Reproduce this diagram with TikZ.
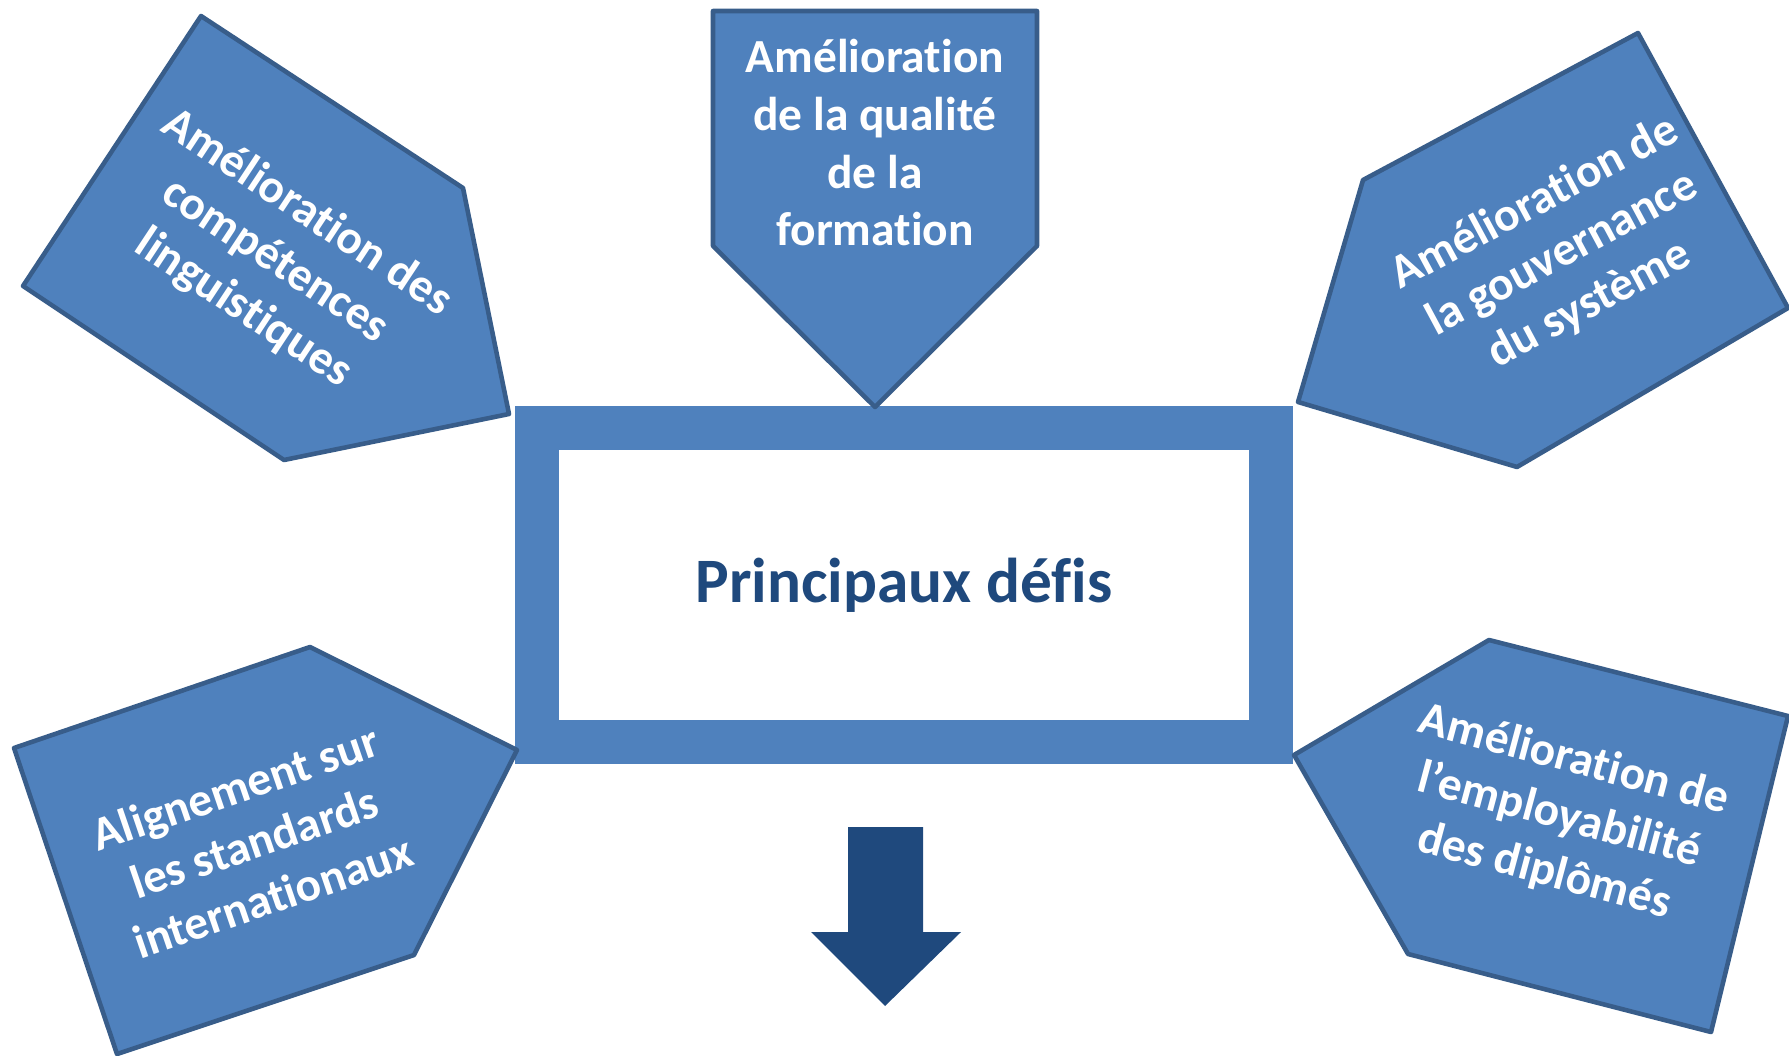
\documentclass[tikz,border=0pt]{standalone}
\usepackage{fontspec}
\setmainfont{Carlito}[Ligatures=NoCommon]
\definecolor{pfill}{RGB}{79,129,189}
\definecolor{pborder}{RGB}{56,93,138}
\definecolor{pdark}{RGB}{31,73,125}
\begin{document}
\begin{tikzpicture}[x=0.01cm,y=-0.01cm,
  pent/.style={fill=pfill,draw=pborder,line width=1.3pt,line join=round},
  lbl/.style={text=white,font=\fontsize{13.5}{16.4}\selectfont\bfseries,align=center,inner sep=0pt},
  frame/.style={draw=pfill,fill=white,line width=12.5pt,minimum width=7.34cm,minimum height=3.144cm,
    text=pdark,font=\fontsize{18}{21}\selectfont\bfseries}]
\useasboundingbox (0,0) rectangle (1789,1055);

% central box
\node[frame] (c) at (904,585) {Principaux défis};

% pentagons
\draw[pent] (713,11) -- (1037,11) -- (1037,246) -- (875,407) -- (713,246) -- cycle;
\draw[pent] (201,16) -- (463,188) -- (509,414) -- (284,460) -- (23,286) -- cycle;
\draw[pent] (1363,180) -- (1638,33) -- (1788,308) -- (1517,467) -- (1298,402) -- cycle;
\draw[pent] (14,748) -- (310,647) -- (517,750) -- (414,955) -- (117,1054) -- cycle;
\draw[pent] (1294,755) -- (1489,640) -- (1788,716) -- (1711,1032) -- (1408,954) -- cycle;

% labels
\node[lbl] (t1) at (875,143) {Amélioration\\de la qualité\\de la\\formation};
\node[lbl,rotate=-33.5] (t2) at (275,261) {Amélioration des\\compétences\\linguistiques};
\node[lbl,rotate=28.2] (t3) at (1562,254) {Amélioration de\\la gouvernance\\du système};
\node[lbl,rotate=18.9] (t4) at (254,842) {Alignement sur\\les standards\\internationaux};
\node[lbl,rotate=-15] (t5) at (1559,816) {Amélioration de\\l’employabilité\\des diplômés};

% down arrow
\fill[pdark] (848,827) -- (923,827) -- (923,932) -- (961,932) -- (885,1006) -- (811,932) -- (848,932) -- cycle;
\end{tikzpicture}
\end{document}
